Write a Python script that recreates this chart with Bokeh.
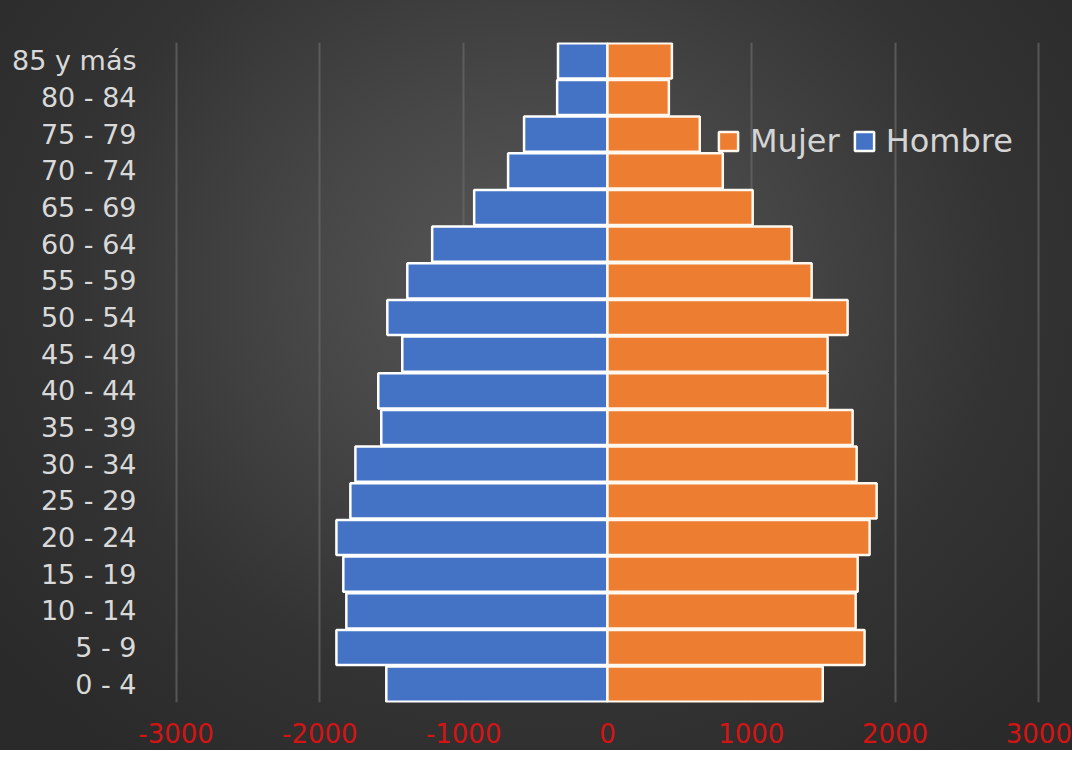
from bokeh.plotting import figure
from bokeh.models import Range1d, FactorRange, FixedTicker, Legend, LegendItem, ColumnDataSource
from bokeh.embed import file_html
from bokeh.resources import INLINE

# ---- data ----
age_groups = ["0 - 4", "5 - 9", "10 - 14", "15 - 19", "20 - 24", "25 - 29", "30 - 34",
              "35 - 39", "40 - 44", "45 - 49", "50 - 54", "55 - 59", "60 - 64",
              "65 - 69", "70 - 74", "75 - 79", "80 - 84", "85 y más"]
hombre = [-1538, -1885, -1816, -1837, -1885, -1788, -1753, -1573, -1594, -1427,
          -1531, -1392, -1219, -927, -691, -580, -350, -344]
mujer = [1497, 1788, 1726, 1740, 1823, 1872, 1733, 1705, 1531, 1531,
         1670, 1420, 1281, 1010, 802, 642, 427, 448]
x_ticks = [-3000, -2000, -1000, 0, 1000, 2000, 3000]
x_tick_labels = ["-3000", "-2000", "-1000", "0", "1000", "2000", "3000"]

FONT = "DejaVu Sans"

src = ColumnDataSource(dict(age=age_groups, hombre=hombre, mujer=mujer,
                            zero=[0] * len(age_groups)))

p = figure(width=1072, height=750, output_backend="svg", toolbar_location=None,
           y_range=FactorRange(factors=age_groups, range_padding=0),
           x_range=Range1d(-3157, 3234),
           min_border_left=153, min_border_right=0, min_border_top=42, min_border_bottom=48)

p.styles = {"background": "radial-gradient(ellipse farthest-corner at 50% 38%, #585858 0%, #474747 30%, #333333 62%, #2a2a2a 90%)"}
p.background_fill_alpha = 0
p.border_fill_alpha = 0
p.outline_line_color = None

r_h = p.hbar(y="age", left="hombre", right="zero", height=0.96, source=src,
             fill_color="#4472c4", line_color="white", line_width=2.5)
r_m = p.hbar(y="age", left="zero", right="mujer", height=0.96, source=src,
             fill_color="#ed7d31", line_color="#fff8ee", line_width=2.5)

# grid
p.ygrid.grid_line_color = None
p.xgrid.ticker = FixedTicker(ticks=x_ticks)
p.xgrid.grid_line_color = "#666666"
p.xgrid.grid_line_alpha = 0.75
p.xgrid.grid_line_width = 2

# axes
p.xaxis.ticker = FixedTicker(ticks=x_ticks)
p.xaxis.major_label_overrides = {t: s for t, s in zip(x_ticks, x_tick_labels)}
p.xaxis.axis_line_color = None
p.xaxis.major_tick_line_color = None
p.xaxis.minor_tick_line_color = None
p.xaxis.major_label_text_color = "#d41414"
p.xaxis.major_label_text_font = FONT
p.xaxis.major_label_text_font_size = "26px"
p.xaxis.major_label_standoff = 14

p.yaxis.axis_line_color = None
p.yaxis.major_tick_line_color = None
p.yaxis.minor_tick_line_color = None
p.yaxis.major_label_text_color = "#d9d9d9"
p.yaxis.major_label_text_font = FONT
p.yaxis.major_label_text_font_size = "27px"
p.yaxis.major_label_standoff = 11

legend = Legend(items=[LegendItem(label="Mujer", renderers=[r_m]),
                       LegendItem(label="Hombre", renderers=[r_h])],
                orientation="horizontal", location=(563, 542),
                background_fill_alpha=0, border_line_color=None,
                padding=0, margin=0, spacing=12, label_standoff=10,
                glyph_width=24, glyph_height=24,
                label_text_color="#d4d4d4", label_text_font=FONT,
                label_text_font_size="32px")
p.add_layout(legend)

open("out.html", "w").write(file_html(p, INLINE))
